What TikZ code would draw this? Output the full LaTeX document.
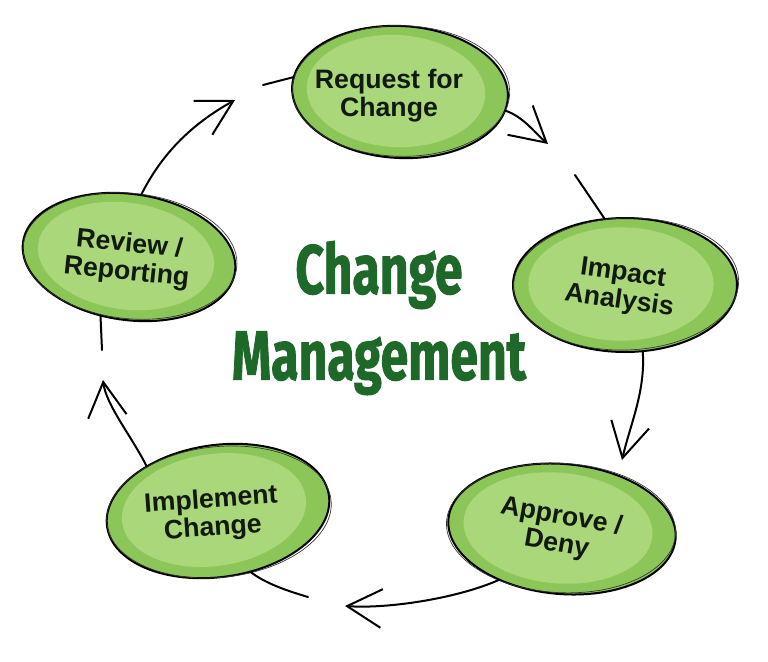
\documentclass[tikz,border=0pt]{standalone}
\usepackage{fontspec}
\usepackage{tikz}
\usetikzlibrary{shapes.geometric,arrows.meta}

\newfontfamily\blobfont{Liberation Sans}
\newfontfamily\titlefont{Fira Sans}[BoldFeatures={FakeBold=1.6}]

\definecolor{rimgreen}{RGB}{141,198,88}
\definecolor{coregreen}{RGB}{170,215,122}
\definecolor{titlegreen}{RGB}{30,104,42}
\definecolor{inkdark}{RGB}{18,26,16}

\tikzset{
  blob/.style={ellipse, draw=black, line width=1.5pt, fill=rimgreen, inner sep=0pt, outer sep=0pt},
  blobcore/.style={ellipse, fill=coregreen, inner sep=0pt, outer sep=0pt},
  blobsketch/.style={ellipse, draw=black!80, line width=0.5pt, inner sep=0pt, outer sep=0pt},
  blobtext/.style={font=\blobfont\bfseries\fontsize{20}{21}\selectfont, text=inkdark, align=center, inner sep=0pt},
  titletext/.style={font=\titlefont\bfseries\fontsize{52}{64.5}\selectfont, text=titlegreen, align=center, inner sep=0pt},
  flow/.style={draw=black, line width=1.5pt, line cap=round, -{Straight Barb[length=26pt, width=29pt]}},
  tail/.style={draw=black, line width=1.5pt, line cap=round},
}

\begin{document}
\begin{tikzpicture}[x=0.75pt,y=-0.75pt]
%set diagram to the size of the reference
\fill[white] (0,0) rectangle (768,661);
\useasboundingbox (0,0) rectangle (768,661);

%Shape: Ellipse [request for change]
\node[blob, minimum width=162pt, minimum height=99pt, rotate=-3] (req) at (400,92) {};
\node[blobcore, minimum width=134pt, minimum height=84pt, rotate=-3] (reqcore) at (396,91) {};
\node[blobsketch, minimum width=163pt, minimum height=98pt, rotate=-1] (reqsketch) at (401,91) {};
%Shape: Ellipse [impact analysis]
\node[blob, minimum width=168pt, minimum height=100.5pt] (imp) at (625,285) {};
\node[blobcore, minimum width=139pt, minimum height=85pt] (impcore) at (621,284) {};
\node[blobsketch, minimum width=169pt, minimum height=99pt, rotate=2] (impsketch) at (626,284) {};
%Shape: Ellipse [approve / deny]
\node[blob, minimum width=171pt, minimum height=97.5pt, rotate=-5] (app) at (562,529) {};
\node[blobcore, minimum width=142pt, minimum height=83pt, rotate=-5] (appcore) at (558,528) {};
\node[blobsketch, minimum width=172pt, minimum height=97pt, rotate=-3] (appsketch) at (561,528) {};
%Shape: Ellipse [implement change]
\node[blob, minimum width=168pt, minimum height=99pt, rotate=8] (impl) at (218,511) {};
\node[blobcore, minimum width=139pt, minimum height=84pt, rotate=8] (implcore) at (214,510) {};
\node[blobsketch, minimum width=169pt, minimum height=98pt, rotate=6] (implsketch) at (219,512) {};
%Shape: Ellipse [review / reporting]
\node[blob, minimum width=160.5pt, minimum height=94.5pt, rotate=-8] (rev) at (129,257) {};
\node[blobcore, minimum width=133pt, minimum height=80pt, rotate=-8] (revcore) at (126,256) {};
\node[blobsketch, minimum width=161pt, minimum height=94pt, rotate=-6] (revsketch) at (130,256) {};

% Text Node
\node[blobtext] (reqlbl) at (389,96) {Request for\\Change};
% Text Node
\node[blobtext, rotate=-8] (implbl) at (621,288) {Impact\\Analysis};
% Text Node
\node[blobtext, rotate=-10] (applbl) at (559,531) {Approve /\\Deny};
% Text Node
\node[blobtext, rotate=4] (impllbl) at (212,515) {Implement\\Change};
% Text Node
\node[blobtext, rotate=-6] (revlbl) at (128,259) {Review /\\Reporting};
% Text Node
\node[titletext] (title) at (379,318) {\scalebox{0.72}[1]{Change}\\\scalebox{0.72}[1]{Management}};

%arrow tips and loose ends
\coordinate (reqtip) at (548,144);
\coordinate (imptip) at (622,460);
\coordinate (apptip) at (345,606);
\coordinate (impltip) at (103,380);
\coordinate (revtip) at (235,100);
\coordinate (imptail) at (575,175);
\coordinate (impltail) at (308,597);
\coordinate (revtail) at (102,350);
\coordinate (reqtail) at (263,85);

%Curve Lines
\draw[flow] (req.-7) .. controls +(18,6) and +(-14,-12) .. (reqtip);
\draw[flow] (imp.-75) .. controls +(3,40) and +(8,-35) .. (imptip);
\draw[flow] (app.224) .. controls +(-40,18) and +(45,3) .. (apptip);
\draw[flow] (impl.140) .. controls +(-15,-30) and +(3,25) .. (impltip);
\draw[flow] (rev.87) .. controls +(20,-40) and +(-45,25) .. (revtip);
%Straight Lines
\draw[tail] (imp.107) -- (imptail);
\draw[tail] (impl.-70) .. controls +(15,12) and +(-20,-6) .. (impltail);
\draw[tail] (rev.-108) -- (revtail);
\draw[tail] (req.175) -- (reqtail);

\end{tikzpicture}
\end{document}
